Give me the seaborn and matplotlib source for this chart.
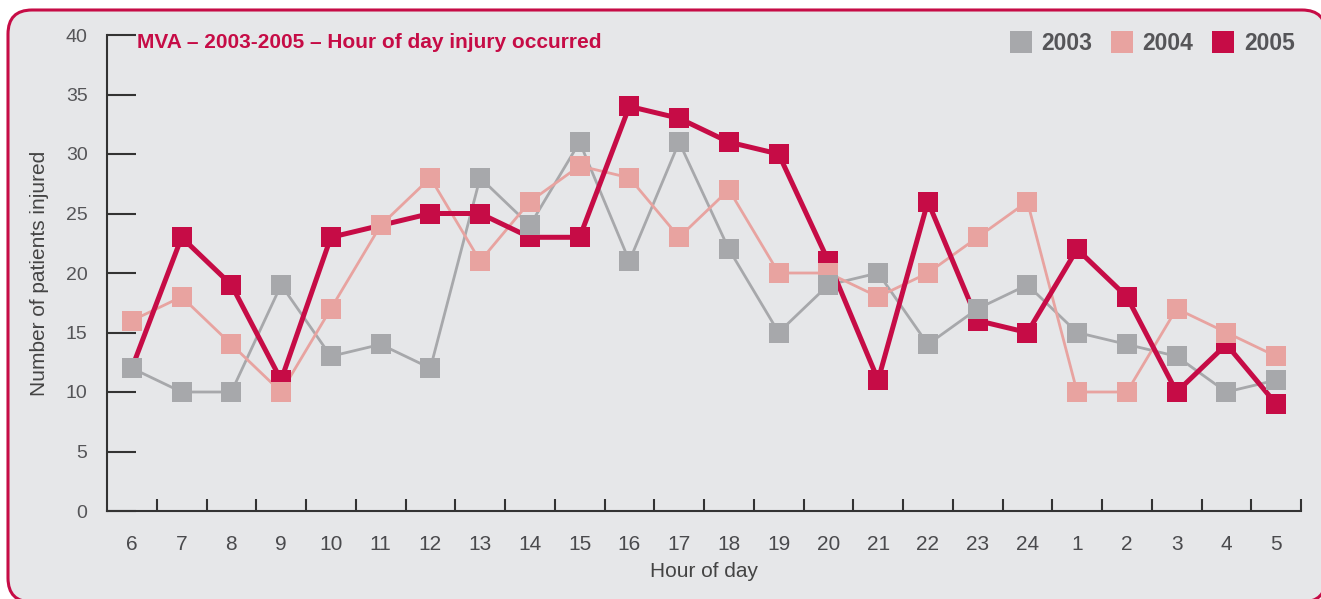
import pandas as pd
import numpy as np
import matplotlib.pyplot as plt
import seaborn as sns
from matplotlib.patches import FancyBboxPatch
from matplotlib.lines import Line2D

hours = ["6", "7", "8", "9", "10", "11", "12", "13", "14", "15", "16", "17",
         "18", "19", "20", "21", "22", "23", "24", "1", "2", "3", "4", "5"]
y2003 = [12, 10, 10, 19, 13, 14, 12, 28, 24, 31, 21, 31, 22, 15, 19, 20, 14, 17, 19, 15, 14, 13, 10, 11]
y2004 = [16, 18, 14, 10, 17, 24, 28, 21, 26, 29, 28, 23, 27, 20, 20, 18, 20, 23, 26, 10, 10, 17, 15, 13]
y2005 = [12, 23, 19, 11, 23, 24, 25, 25, 23, 23, 34, 33, 31, 30, 21, 11, 26, 16, 15, 22, 18, 10, 14, 9]
years = ["2003", "2004", "2005"]

colors = {"2003": "#a7a8ab", "2004": "#e8a3a0", "2005": "#c60c46"}
widths = {"2003": 2.0, "2004": 2.0, "2005": 3.6}
crimson = "#c60c46"
textgray = "#555558"

df = pd.DataFrame({
    "pos": list(range(len(hours))) * 3,
    "count": y2003 + y2004 + y2005,
    "year": ["2003"] * 24 + ["2004"] * 24 + ["2005"] * 24,
})

sns.set_style("white")
plt.rcParams["font.family"] = ["Liberation Sans", "DejaVu Sans"]

fig = plt.figure(figsize=(13.21, 5.99), dpi=100)
fig.patch.set_facecolor("white")

box = FancyBboxPatch((8, -3), 1318, 592, boxstyle="round,pad=0,rounding_size=24",
                     transform=None, facecolor="#e6e7e9", edgecolor=crimson,
                     linewidth=2.2, zorder=-10)
fig.patches.append(box)

ax = fig.add_axes([107 / 1321, 1 - 511 / 599, (1301 - 107) / 1321, (511 - 35) / 599])
ax.set_facecolor("none")

# lines first, markers drawn afterwards in reverse order
for yr in years:
    sub = df[df["year"] == yr]
    sns.lineplot(data=sub, x="pos", y="count", color=colors[yr], lw=widths[yr],
                 sort=False, ax=ax, zorder=2 + years.index(yr))
for yr in years[::-1]:
    sub = df[df["year"] == yr]
    sns.scatterplot(data=sub, x="pos", y="count", color=colors[yr], marker="s",
                    s=220, linewidth=0, ax=ax, zorder=6)

ax.set_xlim(-0.5, len(hours) - 0.5)
ax.set_ylim(0, 40)
ax.set_yticks(range(0, 41, 5))
ax.set_xticks(range(len(hours)))
ax.set_xticklabels(hours)
ax.set_xticks(np.arange(0.5, len(hours), 1), minor=True)

for s in ["top", "right"]:
    ax.spines[s].set_visible(False)
for s in ["left", "bottom"]:
    ax.spines[s].set_color("#333333")
    ax.spines[s].set_linewidth(1.5)

ax.tick_params(axis="y", direction="in", length=21, width=1.5, color="#333333",
               labelsize=14, labelcolor=textgray, pad=14, left=True)
ax.tick_params(axis="x", which="major", length=0, labelsize=15, labelcolor="#4a4a4d", pad=17)
ax.tick_params(axis="x", which="minor", direction="in", length=9, width=1.5,
               color="#333333", bottom=True)

ax.set_xlabel("Hour of day", fontsize=15, color="#444444", labelpad=6)
ax.set_ylabel("Number of patients injured", fontsize=15, color="#444444", labelpad=12)

fig.text(137 / 1321, 1 - 42 / 599, "MVA \u2013 2003-2005 \u2013 Hour of day injury occurred",
         color=crimson, fontsize=15, fontweight="bold", va="center", ha="left")

handles = [Line2D([], [], marker="s", linestyle="none", markersize=16,
                  markerfacecolor=colors[yr], markeredgewidth=0) for yr in years]
leg = ax.legend(handles, years, ncol=3, frameon=False, loc="upper right",
                bbox_to_anchor=(1.012, 1.05), handlelength=0.8, handletextpad=0.5,
                columnspacing=0.9, prop={"size": 16.5, "weight": "bold"})
for t in leg.get_texts():
    t.set_color(textgray)

fig.savefig("out.png", dpi=100)
